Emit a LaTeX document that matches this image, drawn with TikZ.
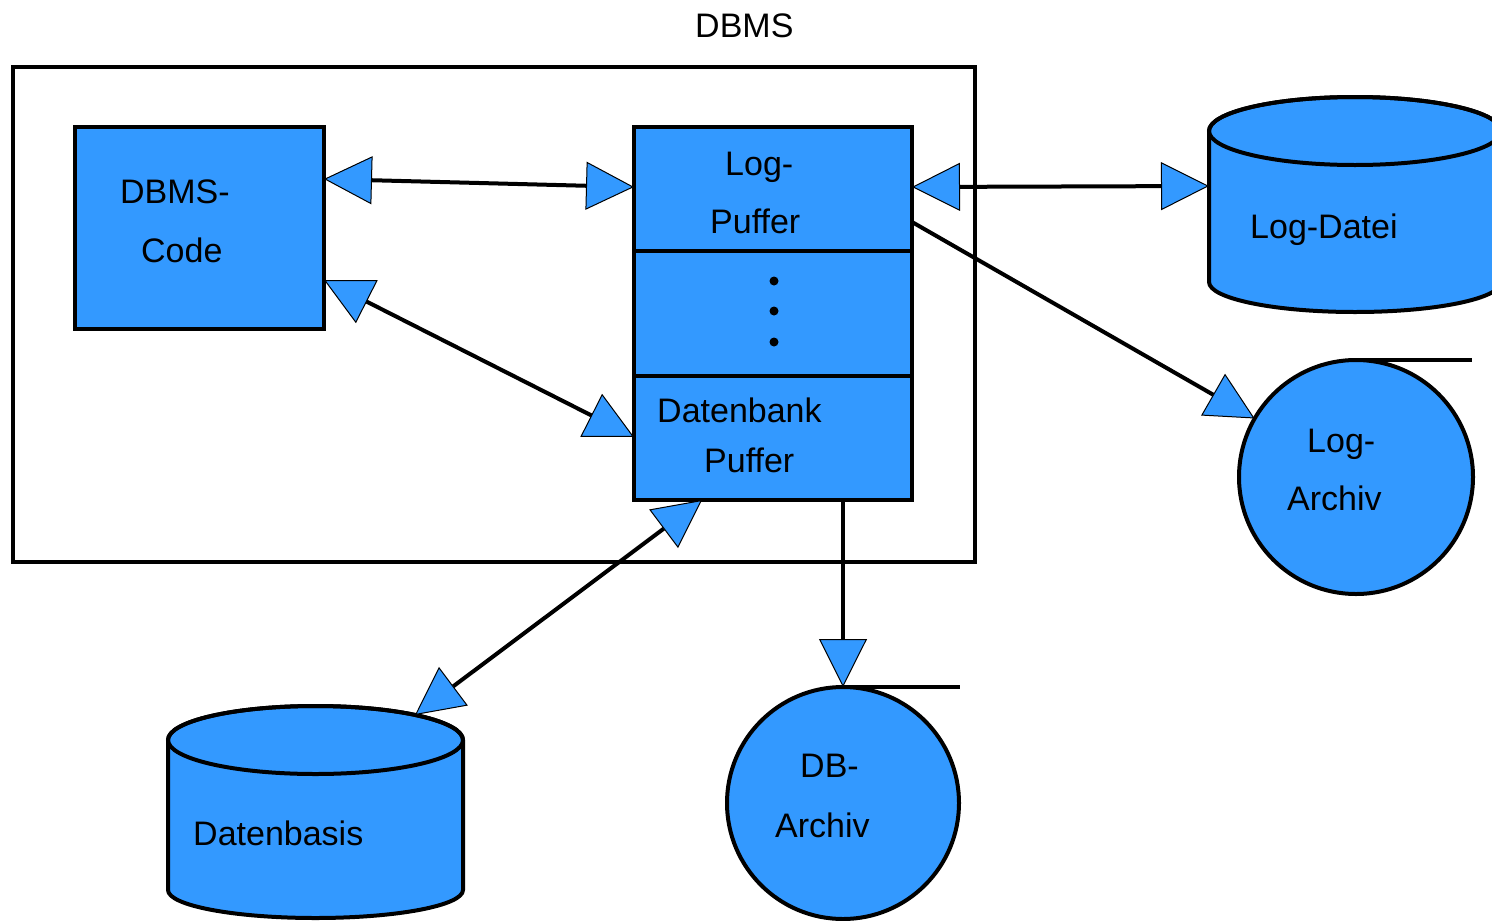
\documentclass[tikz,border=0pt]{standalone}
\usepackage{fontspec}
\setmainfont{Liberation Sans}
\usetikzlibrary{arrows.meta}
\definecolor{dbblue}{RGB}{51,153,255}
\tikzset{
  txt/.style={font=\fontsize{34}{40}\selectfont, anchor=base west, inner sep=0pt},
  bluebox/.style={draw, line width=4pt, fill=dbblue, rectangle, inner sep=0pt, outer sep=0pt},
  bluecirc/.style={draw, line width=4pt, fill=dbblue, circle, inner sep=0pt, outer sep=0pt},
  cyl/.style={draw, line width=4pt, fill=dbblue, line join=round},
  conn/.style={line width=4pt},
  tri/.tip={Triangle[length=48pt, width=48pt, fill=dbblue, line width=1pt]},
  both/.style={conn, tri-tri},
  fwd/.style={conn, -tri}
}
\begin{document}
\begin{tikzpicture}[x=1pt, y=-1pt]
\useasboundingbox (0,0) rectangle (1492,921);

% outer DBMS frame and title
\node[draw, line width=3.5pt, rectangle, inner sep=0pt, minimum width=962pt, minimum height=495pt] (dbms) at (494,314.5) {};
\node[txt] (title) at (695,37) {DBMS};

% DBMS-Code box
\node[bluebox, minimum width=249pt, minimum height=202pt] (code) at (199.5,228) {};
\node[txt] (codeA) at (120,203) {DBMS-};
\node[txt] (codeB) at (141,262) {Code};

% buffer stack
\node[bluebox, minimum width=278pt, minimum height=124pt] (lp) at (773,189) {};
\node[bluebox, minimum width=278pt, minimum height=125pt] (mid) at (773,313.5) {};
\node[bluebox, minimum width=278pt, minimum height=124pt] (dbp) at (773,438) {};
\node[txt] (lpA) at (725,175) {Log-};
\node[txt] (lpB) at (710,233) {Puffer};
\fill (774,281) circle[radius=4.5pt];
\fill (774,311) circle[radius=4.5pt];
\fill (774,342) circle[radius=4.5pt];
\node[txt] (dbpA) at (657,422) {Datenbank};
\node[txt] (dbpB) at (704,472) {Puffer};

% Log-Datei cylinder
\draw[cyl] (1209,131) -- (1209,282) arc[start angle=180, end angle=0, x radius=146, y radius=30]
  -- (1501,131) arc[start angle=0, end angle=-180, x radius=146, y radius=34] -- cycle;
\draw[line width=4pt] (1355,131) ellipse[x radius=146, y radius=34];
\coordinate (ldL) at (1209,186);
\node[txt] (ld) at (1250,238) {Log-Datei};

% Datenbasis cylinder
\draw[cyl] (168,740) -- (168,890) arc[start angle=180, end angle=0, x radius=147.5, y radius=28]
  -- (463,740) arc[start angle=0, end angle=-180, x radius=147.5, y radius=34] -- cycle;
\draw[line width=4pt] (315.5,740) ellipse[x radius=147.5, y radius=34];
\coordinate (dbT) at (415,715);
\node[txt] (dbt) at (193,845) {Datenbasis};

% Log-Archiv
\node[bluecirc, minimum size=234pt] (la) at (1356,477) {};
\draw[line width=4pt] (la.north) -- ([xshift=116pt]la.north);
\node[txt] (laA) at (1307,452) {Log-};
\node[txt] (laB) at (1287,510) {Archiv};

% DB-Archiv
\node[bluecirc, minimum size=232pt] (dba) at (843,803) {};
\draw[line width=4pt] (dba.north) -- ([xshift=117pt]dba.north);
\node[txt] (dbaA) at (800,777) {DB-};
\node[txt] (dbaB) at (775,837) {Archiv};

% connectors
\draw[both] ([yshift=-52pt]code.north east) -- ([yshift=-60pt]lp.north west);
\draw[both] ([yshift=49pt]code.south east) -- ([yshift=-61pt]dbp.north west);
\draw[both] ([yshift=-60pt]lp.north east) -- (ldL);
\draw[fwd] ([yshift=-95pt]lp.north east) -- (la.150);
\draw[both] ([xshift=68pt]dbp.south west) -- (dbT);
\draw[fwd] ([xshift=209pt]dbp.south west) -- (dba.north);
\end{tikzpicture}
\end{document}
